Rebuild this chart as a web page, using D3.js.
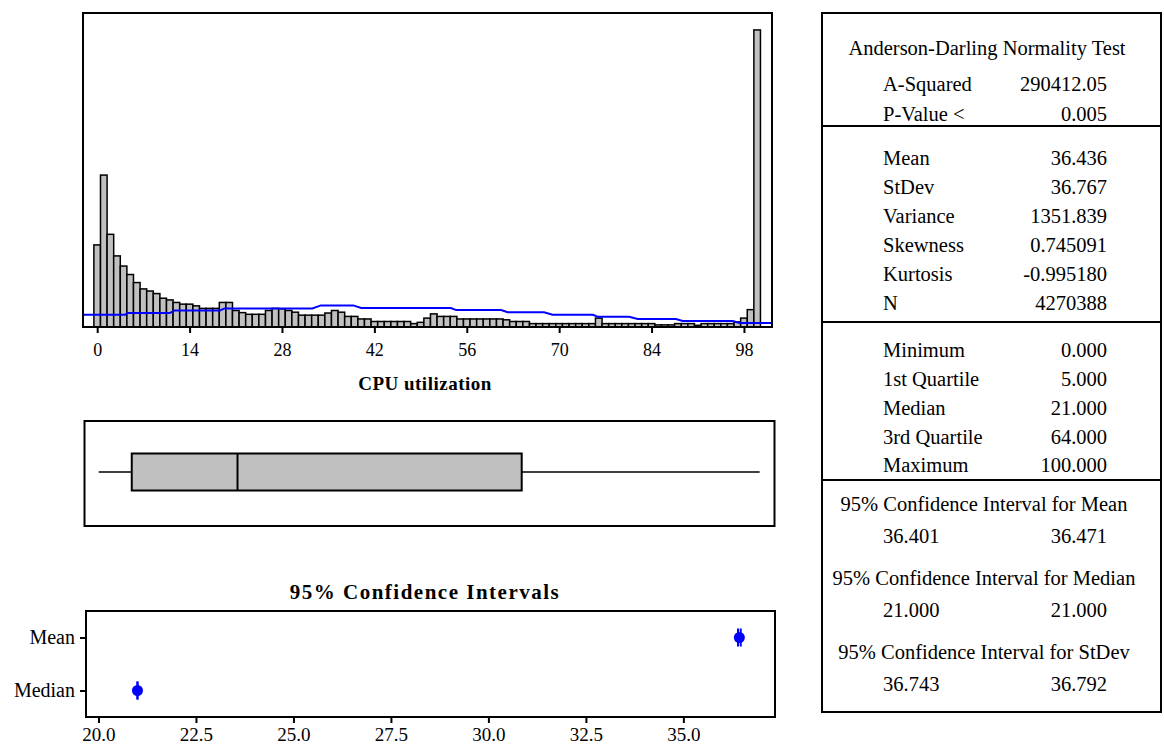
<!DOCTYPE html>
<html>
<head>
<meta charset="utf-8">
<script src="https://cdn.jsdelivr.net/npm/d3@7/dist/d3.min.js"></script>
<style>
    body { margin: 0; background: #fff; }
    svg text { font-family: "Liberation Serif", "Times New Roman", serif; fill: #000; }
    .axis path { display: none; }
    .axis line { stroke: #000; stroke-width: 2; }
</style>
</head>
<body>
<div id="vis"></div>
<script>
/* *************************** Data ***************************** */

// Histogram of CPU utilization: one bin per integer value 0..100, counts in thousands
var binWidth = 1;
var counts = [
    194, 359, 219, 168, 144, 124, 105, 90, 85, 79,
    68, 64, 58, 54, 54, 50, 44, 44, 44, 58,
    58, 39, 34, 30, 30, 30, 39, 44, 43, 39,
    35, 28, 28, 28, 28, 33, 39, 35, 25, 25,
    19, 19, 13, 13, 13, 13, 13, 13, 8, 11,
    21, 31, 25, 25, 25, 19, 19, 19, 19, 19,
    19, 19, 17, 13, 13, 13, 8, 8, 8, 8,
    8, 8, 8, 8, 8, 8, 21, 8, 8, 8,
    8, 8, 8, 8, 8, 5, 5, 5, 8, 8,
    8, 4, 8, 8, 8, 8, 8, 12, 21, 41,
    702
];
var yMax = 742;

// Fitted normal curve as it appears on the picture (thousands)
var fitX = [-2.2, 4.2, 4.6, 11.0, 11.7, 18.6, 19.3, 32.6, 33.9, 38.8, 40.0, 53.6, 54.4,
    61.2, 62.2, 67.7, 69.0, 75.1, 75.9, 80.6, 81.9, 87.7, 88.7, 96.3, 97.3, 102.3];
var fitY = [29, 29, 33, 33, 39, 39, 44, 44, 51, 51, 45, 45, 40,
    40, 35, 35, 29, 29, 24, 24, 19, 19, 14, 14, 9.5, 9.5];

var xTicks = [0, 14, 28, 42, 56, 70, 84, 98];

// Box plot: min, Q1, median, Q3, max
var boxValues = [0, 5, 21, 64, 100];

// 95% confidence intervals
var ciNames = ['Mean', 'Median'];
var ciEst = [36.436, 21.0];
var ciLow = [36.401, 21.0];
var ciHigh = [36.471, 21.0];
var ciTicks = [20.0, 22.5, 25.0, 27.5, 30.0, 32.5, 35.0];

// Summary table
var testLabels = ['A-Squared', 'P-Value <'];
var testValues = ['290412.05', '0.005'];
var momentLabels = ['Mean', 'StDev', 'Variance', 'Skewness', 'Kurtosis', 'N'];
var momentValues = ['36.436', '36.767', '1351.839', '0.745091', '-0.995180', '4270388'];
var quantLabels = ['Minimum', '1st Quartile', 'Median', '3rd Quartile', 'Maximum'];
var quantValues = ['0.000', '5.000', '21.000', '64.000', '100.000'];
var ciTitles = ['95% Confidence Interval for Mean', '95% Confidence Interval for Median', '95% Confidence Interval for StDev'];
var ciLower = ['36.401', '21.000', '36.743'];
var ciUpper = ['36.471', '21.000', '36.792'];

/* *************************** Layout ***************************** */
var width = 1164;
var height = 749;

var hist = { left: 83, right: 772, top: 13, bottom: 327 };
var box = { left: 84.5, right: 774.5, top: 421, bottom: 526 };
var ci = { left: 86, right: 775, top: 611, bottom: 717 };
var table = { left: 822, right: 1161, top: 13, bottom: 712 };

var svg = d3.select('#vis')
    .append('svg')
    .attr('width', width)
    .attr('height', height);

svg.append('rect')
    .attr('width', width)
    .attr('height', height)
    .attr('fill', '#fff');

/* *************************** Histogram ***************************** */
var xScale = d3.scaleLinear()
    .domain([-2.15, 102.25])
    .range([hist.left, hist.right]);

var yScale = d3.scaleLinear()
    .domain([0, yMax])
    .range([hist.bottom, hist.top]);

svg.append('clipPath')
    .attr('id', 'histClip')
    .append('rect')
    .attr('x', hist.left)
    .attr('y', hist.top)
    .attr('width', hist.right - hist.left)
    .attr('height', hist.bottom - hist.top);

svg.append('g')
    .selectAll('rect')
    .data(counts)
    .enter()
    .append('rect')
    .attr('x', function(d, i) { return xScale(i - binWidth / 2); })
    .attr('width', function(d, i) { return xScale(i + binWidth / 2) - xScale(i - binWidth / 2); })
    .attr('y', function(d) { return yScale(d); })
    .attr('height', function(d) { return yScale(0) - yScale(d); })
    .attr('fill', '#c0c0c0')
    .attr('stroke', '#000')
    .attr('stroke-width', 1.5);

var fitLine = d3.line()
    .x(function(d, i) { return xScale(fitX[i]); })
    .y(function(d) { return yScale(d); });

svg.append('path')
    .datum(fitY)
    .attr('d', fitLine)
    .attr('clip-path', 'url(#histClip)')
    .attr('fill', 'none')
    .attr('stroke', '#0000ff')
    .attr('stroke-width', 2);

svg.append('rect')
    .attr('x', hist.left)
    .attr('y', hist.top)
    .attr('width', hist.right - hist.left)
    .attr('height', hist.bottom - hist.top)
    .attr('fill', 'none')
    .attr('stroke', '#000')
    .attr('stroke-width', 2);

var xAxis = d3.axisBottom(xScale)
    .tickValues(xTicks)
    .tickSize(6)
    .tickPadding(10)
    .tickFormat(d3.format('d'));

svg.append('g')
    .attr('class', 'axis')
    .attr('transform', 'translate(0,' + hist.bottom + ')')
    .call(xAxis)
    .selectAll('text')
    .style('font-size', '18px');

svg.append('text')
    .attr('x', 425)
    .attr('y', 383)
    .attr('dy', '0.35em')
    .attr('text-anchor', 'middle')
    .style('font-size', '19px')
    .style('font-weight', 'bold')
    .style('letter-spacing', '0.5px')
    .text('CPU utilization');

/* *************************** Box plot ***************************** */
var boxX = d3.scaleLinear()
    .domain([-2.15, 102.25])
    .range([box.left, box.right]);

var boxMid = 472;
var boxHalf = 18.5;

svg.append('rect')
    .attr('x', box.left)
    .attr('y', box.top)
    .attr('width', box.right - box.left)
    .attr('height', box.bottom - box.top)
    .attr('fill', 'none')
    .attr('stroke', '#000')
    .attr('stroke-width', 2);

// whiskers
svg.append('line')
    .attr('x1', boxX(boxValues[0])).attr('x2', boxX(boxValues[1]))
    .attr('y1', boxMid).attr('y2', boxMid)
    .attr('stroke', '#000').attr('stroke-width', 1.5);
svg.append('line')
    .attr('x1', boxX(boxValues[3])).attr('x2', boxX(boxValues[4]))
    .attr('y1', boxMid).attr('y2', boxMid)
    .attr('stroke', '#000').attr('stroke-width', 1.5);

svg.append('rect')
    .attr('x', boxX(boxValues[1]))
    .attr('y', boxMid - boxHalf)
    .attr('width', boxX(boxValues[3]) - boxX(boxValues[1]))
    .attr('height', boxHalf * 2)
    .attr('fill', '#c0c0c0')
    .attr('stroke', '#000')
    .attr('stroke-width', 2);

svg.append('line')
    .attr('x1', boxX(boxValues[2])).attr('x2', boxX(boxValues[2]))
    .attr('y1', boxMid - boxHalf).attr('y2', boxMid + boxHalf)
    .attr('stroke', '#000').attr('stroke-width', 2);

/* *************************** Confidence intervals ***************************** */
svg.append('text')
    .attr('x', 425)
    .attr('y', 592)
    .attr('dy', '0.35em')
    .attr('text-anchor', 'middle')
    .style('font-size', '21px')
    .style('font-weight', 'bold')
    .style('letter-spacing', '1.5px')
    .text('95% Confidence Intervals');

var ciX = d3.scaleLinear()
    .domain([19.68, 37.35])
    .range([ci.left, ci.right]);

var ciY = d3.scalePoint()
    .domain(ciNames)
    .range([ci.top, ci.bottom])
    .padding(0.5);

svg.append('rect')
    .attr('x', ci.left)
    .attr('y', ci.top)
    .attr('width', ci.right - ci.left)
    .attr('height', ci.bottom - ci.top)
    .attr('fill', 'none')
    .attr('stroke', '#000')
    .attr('stroke-width', 2);

svg.append('g')
    .attr('class', 'axis')
    .attr('transform', 'translate(0,' + ci.bottom + ')')
    .call(d3.axisBottom(ciX).tickValues(ciTicks).tickSize(6).tickPadding(5).tickFormat(d3.format('.1f')))
    .selectAll('text')
    .style('font-size', '19px');

svg.append('g')
    .attr('class', 'axis')
    .attr('transform', 'translate(' + ci.left + ',0)')
    .call(d3.axisLeft(ciY).tickSize(6).tickPadding(5))
    .selectAll('text')
    .style('font-size', '20px');

var marks = svg.append('g')
    .selectAll('g')
    .data(ciNames)
    .enter()
    .append('g');

marks.append('line')
    .attr('x1', function(d, i) { return ciX(ciLow[i]); })
    .attr('x2', function(d, i) { return ciX(ciHigh[i]); })
    .attr('y1', function(d) { return ciY(d); })
    .attr('y2', function(d) { return ciY(d); })
    .attr('stroke', '#0000ff')
    .attr('stroke-width', 2);

marks.append('line')
    .attr('x1', function(d, i) { return ciX(ciLow[i]); })
    .attr('x2', function(d, i) { return ciX(ciLow[i]); })
    .attr('y1', function(d) { return ciY(d) - 9; })
    .attr('y2', function(d) { return ciY(d) + 9; })
    .attr('stroke', '#0000ff')
    .attr('stroke-width', 2);

marks.append('line')
    .attr('x1', function(d, i) { return ciX(ciHigh[i]); })
    .attr('x2', function(d, i) { return ciX(ciHigh[i]); })
    .attr('y1', function(d) { return ciY(d) - 9; })
    .attr('y2', function(d) { return ciY(d) + 9; })
    .attr('stroke', '#0000ff')
    .attr('stroke-width', 2);

marks.append('circle')
    .attr('cx', function(d, i) { return ciX(ciEst[i]); })
    .attr('cy', function(d) { return ciY(d); })
    .attr('r', 5.5)
    .attr('fill', '#0000ff');

/* *************************** Summary table ***************************** */
var tg = svg.append('g').style('font-size', '20.5px');

tg.append('rect')
    .attr('x', table.left)
    .attr('y', table.top)
    .attr('width', table.right - table.left)
    .attr('height', table.bottom - table.top)
    .attr('fill', 'none')
    .attr('stroke', '#000')
    .attr('stroke-width', 2);

var labelX = 883;
var valueX = 1107;

// separator lines
[126, 322, 480].forEach(function(y) {
    tg.append('line')
        .attr('x1', table.left).attr('x2', table.right)
        .attr('y1', y).attr('y2', y)
        .attr('stroke', '#000').attr('stroke-width', 2);
});

var row = function(label, value, y) {
    tg.append('text').attr('x', labelX).attr('y', y).attr('dy', '0.35em').text(label);
    tg.append('text').attr('x', valueX).attr('y', y).attr('dy', '0.35em')
        .attr('text-anchor', 'end').text(value);
};

tg.append('text')
    .attr('x', 987).attr('y', 48).attr('dy', '0.35em')
    .attr('text-anchor', 'middle')
    .text('Anderson-Darling Normality Test');

testLabels.forEach(function(d, i) { row(d, testValues[i], 84 + i * 30); });
momentLabels.forEach(function(d, i) { row(d, momentValues[i], 158 + i * 29); });
quantLabels.forEach(function(d, i) { row(d, quantValues[i], 350 + i * 28.8); });

ciTitles.forEach(function(d, i) {
    var y = 504 + i * 74;
    tg.append('text')
        .attr('x', 984).attr('y', y).attr('dy', '0.35em')
        .attr('text-anchor', 'middle')
        .text(d);
    row(ciLower[i], ciUpper[i], y + 32);
});
</script>
</body>
</html>
